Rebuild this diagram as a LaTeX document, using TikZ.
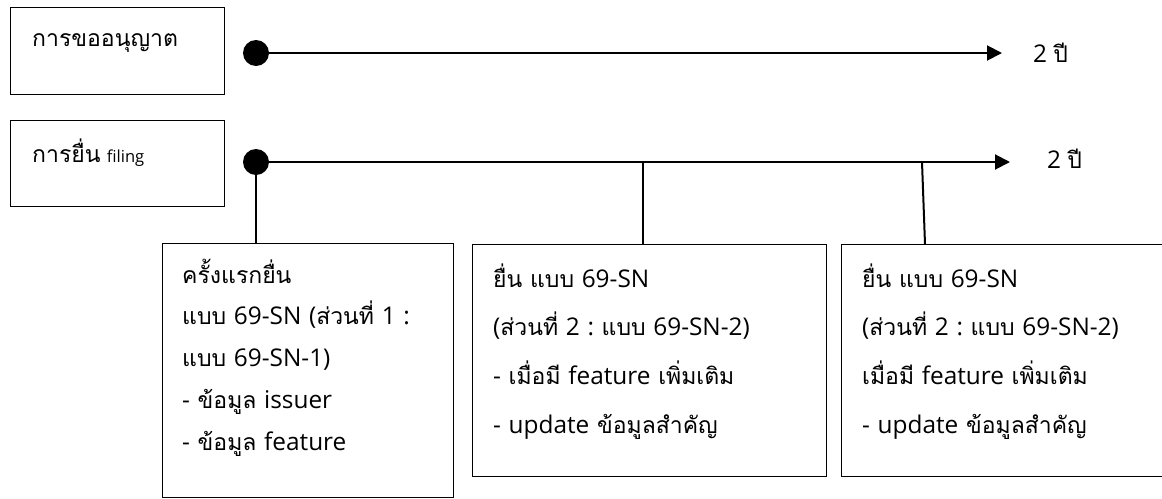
\documentclass[tikz,border=0pt]{standalone}
\usepackage{fontspec}
\setmainfont{Loma}[Script=Thai]
\newfontfamily\latfont[Scale=1.06]{Open Sans}
\newcommand\latn[1]{{\latfont #1}}
\usetikzlibrary{arrows.meta}
\frenchspacing
\begin{document}
\begin{tikzpicture}[x=1pt,y=-1pt,
  box/.style={draw, line width=1.4pt, rectangle, anchor=north west, inner sep=0pt},
  txt/.style={anchor=base west, inner sep=0pt, font=\fontsize{23}{28}\selectfont},
  multi/.style={anchor=base west, inner sep=0pt, align=left, text width=330pt},
  conn/.style={line width=2pt},
  arr/.style={line width=2pt, -{Triangle[length=15pt,width=15pt]}},
  dot/.style={circle, fill=black, minimum size=26pt, inner sep=0pt}]
\clip (0,0) rectangle (1162,498);
% left boxes
\node[box, minimum width=214pt, minimum height=87pt] (b1) at (10,7) {};
\node[txt] (t1) at (32,46) {การขออนุญาต};
\node[box, minimum width=214pt, minimum height=86pt] (b2) at (10,120) {};
\node[txt] (t2) at (32,162) {การยื่น\latn{ }{\fontsize{15.6}{20}\selectfont\latn{filing}}};
% timelines
\coordinate (e1) at (1002,53);
\coordinate (e2) at (1010,162);
\node[dot] (d1) at (256,53) {};
\node[dot] (d2) at (256,162) {};
\draw[arr] (d1.center) -- (e1);
\draw[arr] (d2.center) -- (e2);
\node[txt] (y1) at (1033,62) {\latn{2 }ปี};
\node[txt] (y2) at (1047,168) {\latn{2 }ปี};
% lower boxes
\node[box, minimum width=291pt, minimum height=254pt] (b3) at (162,243) {};
\node[box, minimum width=354pt, minimum height=232pt] (b4) at (472,244) {};
\node[box, minimum width=339pt, minimum height=232pt] (b5) at (841,244) {};
\node[multi, font=\fontsize{23}{41.75}\selectfont] (t3) at (182,283)
  {ครั้งแรกยื่น\\
   แบบ\latn{ 69-SN (}ส่วนที่\latn{ 1 :}\\
   แบบ\latn{ 69-SN-1)}\\
   \latn{- }ข้อมูล\latn{ issuer}\\
   \latn{- }ข้อมูล\latn{ feature}};
\node[multi, font=\fontsize{23}{48.7}\selectfont] (t4) at (493,287)
  {ยื่น แบบ\latn{ 69-SN}\\
   \latn{(}ส่วนที่\latn{ 2 : }แบบ\latn{ 69-SN-2)}\\
   \latn{- }เมื่อมี\latn{ feature }เพิ่มเติม\\
   \latn{- update }ข้อมูลสำคัญ};
\node[multi, font=\fontsize{23}{48.7}\selectfont] (t5) at (862,287)
  {ยื่น แบบ\latn{ 69-SN}\\
   \latn{(}ส่วนที่\latn{ 2 : }แบบ\latn{ 69-SN-2)}\\
   เมื่อมี\latn{ feature }เพิ่มเติม\\
   \latn{- update }ข้อมูลสำคัญ};
% connectors
\coordinate (j2) at (643,162);
\coordinate (j3) at (922,162);
\coordinate (k3) at (925,244);
\draw[conn] (d2.center) -- (d2.center |- b3.north);
\draw[conn] (j2) -- (j2 |- b4.north);
\draw[conn] (j3) -- (k3);
\end{tikzpicture}
\end{document}
